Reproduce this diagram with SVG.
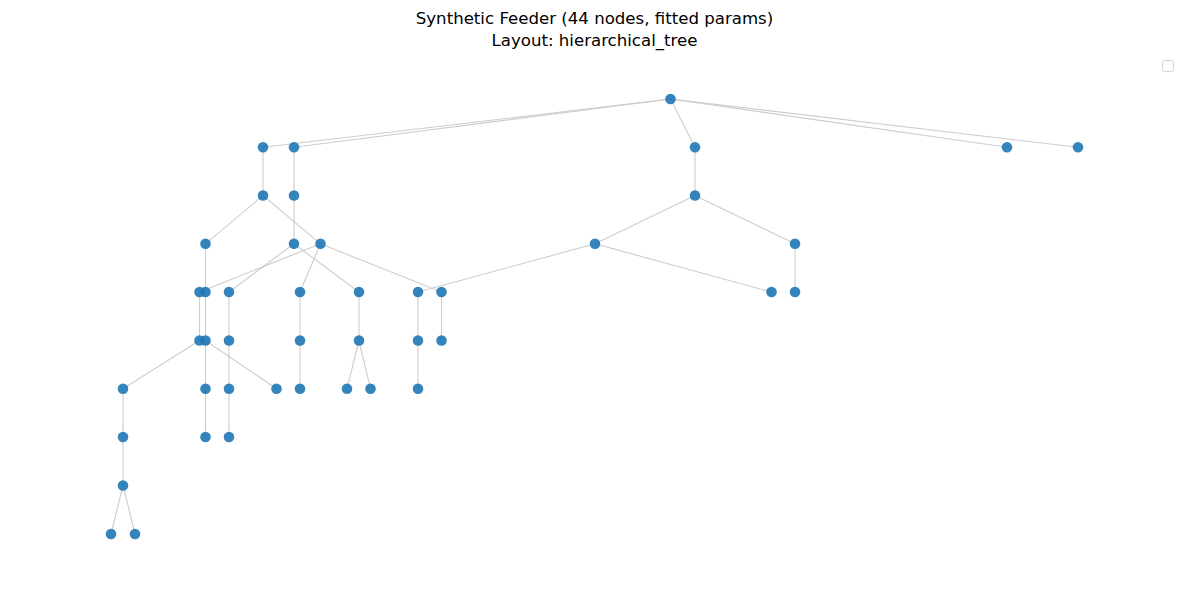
<svg xmlns="http://www.w3.org/2000/svg" width="1189" height="590" viewBox="0 0 1189 590">
<style>
.t{font-family:"DejaVu Sans",sans-serif;font-size:16.6px;fill:#000;text-anchor:middle}
.e line{stroke:#c8c8c8;stroke-opacity:0.9;stroke-width:1.1}
.n circle{fill:#1f77b4;fill-opacity:0.9}
</style>
<rect width="1189" height="590" fill="#fff"/>
<text class="t" x="594.5" y="24">Synthetic Feeder (44 nodes, fitted params)</text>
<text class="t" x="594.5" y="46">Layout: hierarchical_tree</text>
<rect x="1162.5" y="60.5" width="11" height="11" rx="2" fill="#fff" stroke="#d6d6d6"/>
<g id="edges" class="e">
<line x1="670.5" y1="99" x2="263" y2="147.3"/>
<line x1="670.5" y1="99" x2="294" y2="147.3"/>
<line x1="670.5" y1="99" x2="695" y2="147.3"/>
<line x1="670.5" y1="99" x2="1007" y2="147.3"/>
<line x1="670.5" y1="99" x2="1078" y2="147.3"/>
<line x1="263" y1="147.3" x2="263" y2="195.5"/>
<line x1="294" y1="147.3" x2="294" y2="195.5"/>
<line x1="695" y1="147.3" x2="695" y2="195.5"/>
<line x1="263" y1="195.5" x2="205.5" y2="243.8"/>
<line x1="263" y1="195.5" x2="320.5" y2="243.8"/>
<line x1="294" y1="195.5" x2="294" y2="243.8"/>
<line x1="695" y1="195.5" x2="595" y2="243.8"/>
<line x1="695" y1="195.5" x2="795" y2="243.8"/>
<line x1="205.5" y1="243.8" x2="205.5" y2="292"/>
<line x1="320.5" y1="243.8" x2="199.5" y2="292"/>
<line x1="294" y1="243.8" x2="229" y2="292"/>
<line x1="294" y1="243.8" x2="359" y2="292"/>
<line x1="320.5" y1="243.8" x2="300" y2="292"/>
<line x1="320.5" y1="243.8" x2="441.5" y2="292"/>
<line x1="595" y1="243.8" x2="418" y2="292"/>
<line x1="595" y1="243.8" x2="771.5" y2="292"/>
<line x1="795" y1="243.8" x2="795" y2="292"/>
<line x1="199.5" y1="292" x2="199.5" y2="340.5"/>
<line x1="205.5" y1="292" x2="205.5" y2="340.5"/>
<line x1="229" y1="292" x2="229" y2="340.5"/>
<line x1="300" y1="292" x2="300" y2="340.5"/>
<line x1="359" y1="292" x2="359" y2="340.5"/>
<line x1="418" y1="292" x2="418" y2="340.5"/>
<line x1="441.5" y1="292" x2="441.5" y2="340.5"/>
<line x1="199.5" y1="340.5" x2="123" y2="388.8"/>
<line x1="205.5" y1="340.5" x2="205.5" y2="388.8"/>
<line x1="205.5" y1="340.5" x2="276.5" y2="388.8"/>
<line x1="229" y1="340.5" x2="229" y2="388.8"/>
<line x1="300" y1="340.5" x2="300" y2="388.8"/>
<line x1="359" y1="340.5" x2="347" y2="388.8"/>
<line x1="359" y1="340.5" x2="370.5" y2="388.8"/>
<line x1="418" y1="340.5" x2="418" y2="388.8"/>
<line x1="123" y1="388.8" x2="123" y2="437"/>
<line x1="205.5" y1="388.8" x2="205.5" y2="437"/>
<line x1="229" y1="388.8" x2="229" y2="437"/>
<line x1="123" y1="437" x2="123" y2="485.5"/>
<line x1="123" y1="485.5" x2="111" y2="534"/>
<line x1="123" y1="485.5" x2="135" y2="534"/>
</g>
<g class="n">
<g id="n0"><circle cx="670.5" cy="99" r="5.3"/></g>
<g id="n1"><circle cx="263" cy="147.3" r="5.3"/></g>
<g id="n2"><circle cx="294" cy="147.3" r="5.3"/></g>
<g id="n3"><circle cx="695" cy="147.3" r="5.3"/></g>
<g id="n4"><circle cx="1007" cy="147.3" r="5.3"/></g>
<g id="n5"><circle cx="1078" cy="147.3" r="5.3"/></g>
<g id="n6"><circle cx="263" cy="195.5" r="5.3"/></g>
<g id="n7"><circle cx="294" cy="195.5" r="5.3"/></g>
<g id="n8"><circle cx="695" cy="195.5" r="5.3"/></g>
<g id="n9"><circle cx="205.5" cy="243.8" r="5.3"/></g>
<g id="n10"><circle cx="294" cy="243.8" r="5.3"/></g>
<g id="n11"><circle cx="320.5" cy="243.8" r="5.3"/></g>
<g id="n12"><circle cx="595" cy="243.8" r="5.3"/></g>
<g id="n13"><circle cx="795" cy="243.8" r="5.3"/></g>
<g id="n14"><circle cx="199.5" cy="292" r="5.3"/></g>
<g id="n15"><circle cx="205.5" cy="292" r="5.3"/></g>
<g id="n16"><circle cx="229" cy="292" r="5.3"/></g>
<g id="n17"><circle cx="300" cy="292" r="5.3"/></g>
<g id="n18"><circle cx="359" cy="292" r="5.3"/></g>
<g id="n19"><circle cx="418" cy="292" r="5.3"/></g>
<g id="n20"><circle cx="441.5" cy="292" r="5.3"/></g>
<g id="n21"><circle cx="771.5" cy="292" r="5.3"/></g>
<g id="n22"><circle cx="795" cy="292" r="5.3"/></g>
<g id="n23"><circle cx="199.5" cy="340.5" r="5.3"/></g>
<g id="n24"><circle cx="205.5" cy="340.5" r="5.3"/></g>
<g id="n25"><circle cx="229" cy="340.5" r="5.3"/></g>
<g id="n26"><circle cx="300" cy="340.5" r="5.3"/></g>
<g id="n27"><circle cx="359" cy="340.5" r="5.3"/></g>
<g id="n28"><circle cx="418" cy="340.5" r="5.3"/></g>
<g id="n29"><circle cx="441.5" cy="340.5" r="5.3"/></g>
<g id="n30"><circle cx="123" cy="388.8" r="5.3"/></g>
<g id="n31"><circle cx="205.5" cy="388.8" r="5.3"/></g>
<g id="n32"><circle cx="229" cy="388.8" r="5.3"/></g>
<g id="n33"><circle cx="276.5" cy="388.8" r="5.3"/></g>
<g id="n34"><circle cx="300" cy="388.8" r="5.3"/></g>
<g id="n35"><circle cx="347" cy="388.8" r="5.3"/></g>
<g id="n36"><circle cx="370.5" cy="388.8" r="5.3"/></g>
<g id="n37"><circle cx="418" cy="388.8" r="5.3"/></g>
<g id="n38"><circle cx="123" cy="437" r="5.3"/></g>
<g id="n39"><circle cx="205.5" cy="437" r="5.3"/></g>
<g id="n40"><circle cx="229" cy="437" r="5.3"/></g>
<g id="n41"><circle cx="123" cy="485.5" r="5.3"/></g>
<g id="n42"><circle cx="111" cy="534" r="5.3"/></g>
<g id="n43"><circle cx="135" cy="534" r="5.3"/></g>
</g>
</svg>
